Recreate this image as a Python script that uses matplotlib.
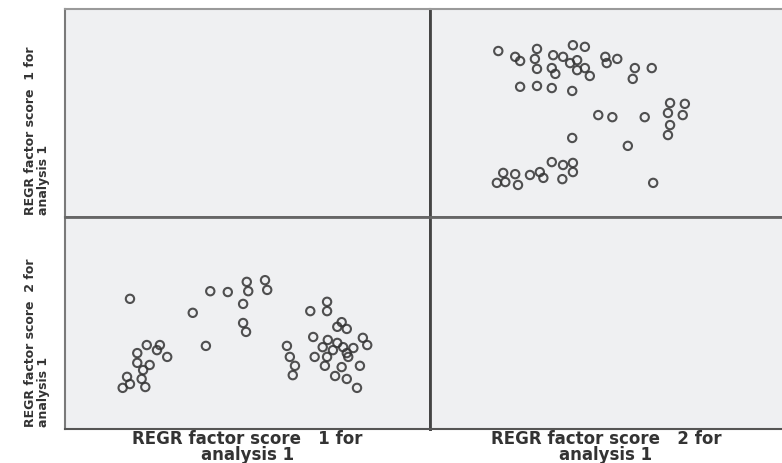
import numpy as np
import matplotlib
matplotlib.use("Agg")
import matplotlib.pyplot as plt

# REGR factor scores
# upper right panel: x = factor 2, y = factor 1
f2_upper = [-1.53, -0.98, -0.47, -0.30, -1.29, -1.22, -1.01, -0.75, -0.61, -0.41,
            -0.51, -0.01, 0.16, 0.01, -0.98, -0.77, -0.72, -0.41, -0.30, -0.23,
            0.41, 0.65, 0.38, -1.22, -0.98, -0.77, -0.48, -0.11, 0.09, 0.55,
            0.91, 1.12, 0.88, 1.09, 0.91, 0.88, -0.48, 0.31, -0.77, -0.61,
            -0.47, -0.47, -0.62, -1.46, -1.29, -1.08, -0.94, -0.89, -1.55, -1.43,
            -1.25, 0.67]
f1_upper = [1.49, 1.54, 1.63, 1.59, 1.35, 1.25, 1.30, 1.39, 1.35, 1.27,
            1.20, 1.35, 1.30, 1.20, 1.06, 1.08, 0.94, 1.03, 1.08, 0.89,
            1.08, 1.08, 0.82, 0.63, 0.65, 0.60, 0.53, -0.05, -0.10, -0.10,
            0.24, 0.22, 0.00, -0.05, -0.29, -0.53, -0.60, -0.79, -1.18, -1.25,
            -1.20, -1.42, -1.59, -1.44, -1.47, -1.49, -1.42, -1.56, -1.68, -1.66,
            -1.73, -1.68]

# lower left panel: x = factor 1, y = factor 2
f1_lower = [-1.61, -0.75, -0.51, -0.27, -0.01, 0.24, 0.01, 0.27, -0.06, -0.06,
            -0.02, -0.57, -1.38, -1.20, -1.24, -1.10, -1.51, -1.51, -1.34, -1.43,
            -1.65, -1.45, -1.71, -1.61, -1.40, 0.54, 0.58, 0.65, 0.62, 0.86,
            1.09, 1.09, 1.29, 1.23, 1.36, 0.90, 1.10, 1.23, 1.03, 1.31,
            1.45, 1.58, 1.64, 0.92, 1.09, 1.17, 1.38, 1.36, 1.06, 1.29,
            1.54, 1.20, 1.36, 1.50]
f2_lower = [0.57, 0.24, 0.75, 0.73, 0.97, 1.01, 0.75, 0.78, 0.45, 0.00,
            -0.21, -0.54, -0.52, -0.52, -0.64, -0.80, -0.71, -0.94, -0.99, -1.11,
            -1.27, -1.32, -1.53, -1.44, -1.51, -0.54, -0.80, -1.01, -1.23, 0.28,
            0.50, 0.28, 0.02, -0.09, -0.14, -0.33, -0.40, -0.47, -0.57, -0.57,
            -0.59, -0.35, -0.52, -0.80, -0.80, -0.64, -0.80, -0.71, -1.01, -1.04,
            -1.01, -1.25, -1.32, -1.53]

var_labels = ["REGR factor score   1 for\nanalysis 1",
              "REGR factor score   2 for\nanalysis 1"]
score_lim = (-2.5, 2.5)

fig = plt.figure(figsize=(7.82, 4.63), dpi=100)
W, H = 782, 463

# panel boxes in pixels; the right column is cut off by the image edge
cols = [(65, 430), (430, 800)]
rows = [(9, 217), (217, 429)]
visible_right = 782

axes = {}
for r, (t, b) in enumerate(rows):
    for c, (l, rr) in enumerate(cols):
        ax = fig.add_axes([l / W, 1 - b / H, (rr - l) / W, (b - t) / H])
        ax.set_facecolor("#eff0f2")
        if c == 1:
            # keep the score range on the visible part, the rest is cropped
            span = score_lim[1] - score_lim[0]
            ax.set_xlim(score_lim[0], score_lim[0] + span * (rr - l) / (visible_right - l))
        else:
            ax.set_xlim(score_lim)
        ax.set_ylim(score_lim)
        ax.set_xticks([])
        ax.set_yticks([])
        for sp in ax.spines.values():
            sp.set_color("#7a7a7a")
            sp.set_linewidth(1.5)
        # inner dividers are darker than the outer frame
        if c == 0:
            ax.spines["right"].set_color("#444444")
            ax.spines["right"].set_linewidth(2)
        else:
            ax.spines["left"].set_color("#444444")
            ax.spines["left"].set_linewidth(2)
        if r == 0:
            ax.spines["bottom"].set_color("#666666")
            ax.spines["bottom"].set_linewidth(2)
            ax.spines["top"].set_color("#9a9a9a")
        else:
            ax.spines["top"].set_color("#666666")
            ax.spines["top"].set_linewidth(2)
            ax.spines["bottom"].set_color("#555555")
        axes[(r, c)] = ax

marker_kw = dict(s=36, facecolors="none", edgecolors="#333333", linewidths=1.5, alpha=0.85)
axes[(0, 1)].scatter(f2_upper, f1_upper, **marker_kw)
axes[(1, 0)].scatter(f1_lower, f2_lower, **marker_kw)

# axis titles below each column
for c, (l, rr) in enumerate([cols[0], (cols[1][0], visible_right)]):
    fig.text((l + rr) / 2 / W, 1 - 447 / H, var_labels[c], ha="center", va="center",
             fontsize=12, fontweight="bold", color="#333333", linespacing=0.85)

# rotated titles left of each row, starting near the panel bottom
for r, (t, b) in enumerate(rows):
    fig.text(37 / W, 1 - (b - 2) / H, var_labels[r].replace("   ", "  "), rotation=90,
             ha="center", va="bottom", fontsize=9, fontweight="bold", color="#333333",
             linespacing=1.05, multialignment="left")

fig.savefig("out.png", dpi=100, facecolor="white")
